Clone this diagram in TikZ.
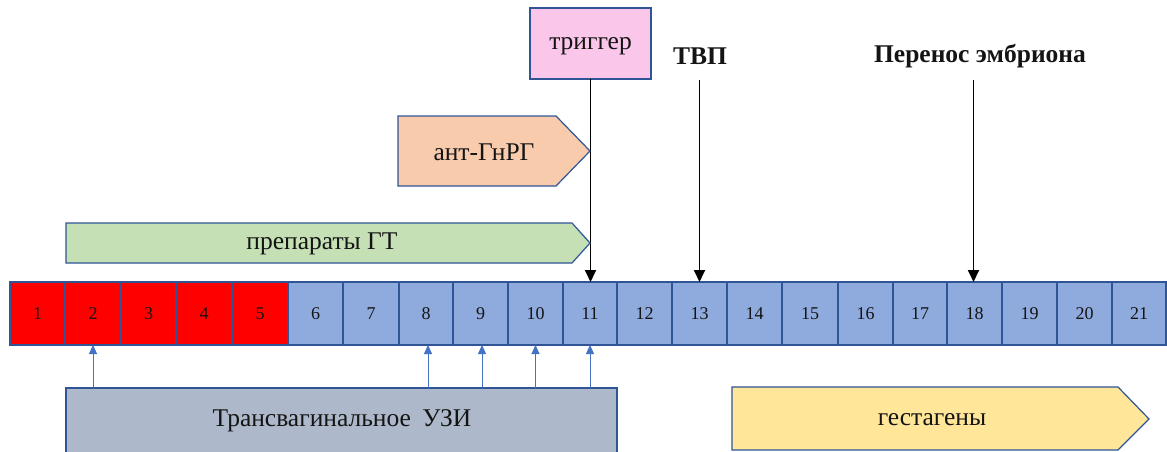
\documentclass[tikz,border=0pt]{standalone}
\usepackage{fontspec}
\setmainfont{Liberation Serif}
\newfontfamily\timesfont{Liberation Serif}
\usetikzlibrary{arrows.meta}

\definecolor{edgeblue}{RGB}{47,85,151}
\definecolor{cellblue}{RGB}{143,170,220}
\definecolor{cellred}{RGB}{255,0,0}
\definecolor{trigpink}{RGB}{250,198,234}
\definecolor{antpeach}{RGB}{248,203,173}
\definecolor{gtgreen}{RGB}{197,224,180}
\definecolor{uzigrey}{RGB}{173,185,202}
\definecolor{gestyellow}{RGB}{255,230,153}
\definecolor{ptrblue}{RGB}{68,114,196}
\definecolor{inkblack}{RGB}{20,20,20}

\tikzset{
  cell/.style={draw=edgeblue, line width=1.4pt, fill=cellblue, inner sep=0pt, outer sep=0pt,
    minimum height=63pt, text=inkblack, font=\timesfont\fontsize{18}{20}\selectfont},
  redcell/.style={cell, fill=cellred},
  txt/.style={font=\timesfont\fontsize{25.5}{30}\selectfont, text=inkblack, inner sep=0pt},
  boldtxt/.style={txt, font=\timesfont\fontsize{25.5}{30}\selectfont\bfseries},
  shapeline/.style={draw=edgeblue, line width=1.2pt},
  markarrow/.style={line width=1.8pt, -{Triangle[width=11pt,length=12pt]}},
  scanarrow/.style={draw=ptrblue, line width=1pt, -{Triangle[width=8pt,length=9pt]}}
}

\begin{document}
\begin{tikzpicture}[x=1pt,y=-1pt]
  \clip (0,0) rectangle (1167,452);
  \fill[white] (0,0) rectangle (1167,452);

  % day cells of the cycle
  \foreach \i/\a/\b in {1/10/65, 2/65/121, 3/121/176, 4/176/232, 5/232/288}
    \node[redcell, minimum width={(\b-\a)*1pt}] (c\i) at ({(\a+\b)/2},313.5) {\i};
  \foreach \i/\a/\b in {6/288/343, 7/343/399, 8/399/453, 9/453/508, 10/508/563,
      11/563/617, 12/617/672, 13/672/727, 14/727/782, 15/782/838, 16/838/893,
      17/893/947, 18/947/1002, 19/1002/1057, 20/1057/1112, 21/1112/1166}
    \node[cell, minimum width={(\b-\a)*1pt}] (c\i) at ({(\a+\b)/2},313.5) {\i};

  % trigger box and its arrow
  \node[draw=edgeblue, line width=1.2pt, fill=trigpink, minimum width=121pt,
        minimum height=71pt, inner sep=0pt, outer sep=0pt, anchor=north west]
        (trig) at (530,8) {};
  \node[txt] (trigtxt) at (590.5,46) {триггер};
  \draw[markarrow] (trig.south) -- (trig.south |- c11.north);

  % antagonist arrow shape
  \draw[shapeline, fill=antpeach] (398,116) -- (556,116) -- (590,151) -- (556,186) -- (398,186) -- cycle;
  \node[txt] (ant) at (484,152) {ант-ГнРГ};

  % hormone therapy arrow shape
  \draw[shapeline, fill=gtgreen] (66,223) -- (572,223) -- (590,243) -- (572,263) -- (66,263) -- cycle;
  \node[txt] (gt) at (322,244) {препараты ГТ};

  % puncture and transfer markers
  \node[boldtxt] (tvp) at (700,56) {ТВП};
  \coordinate (tvptop) at (699.5,80);
  \draw[markarrow] (tvptop) -- (tvptop |- c13.north);

  \node[boldtxt] (transfer) at (980,56) {Перенос эмбриона};
  \coordinate (transfertop) at (973.5,80);
  \draw[markarrow] (transfertop) -- (transfertop |- c18.north);

  % ultrasound box and scan days
  \node[draw=edgeblue, line width=1.2pt, fill=uzigrey, minimum width=551pt,
        minimum height=80pt, inner sep=0pt, outer sep=0pt, anchor=north west]
        (uzi) at (66,388) {};
  \node[txt] (uzitxt) at (342,421) {Трансвагинальное\hspace{0.45em}УЗИ};
  \draw[scanarrow] (uzi.north -| c2.south) -- (c2.south);
  \draw[scanarrow] ([xshift=2pt]uzi.north -| c8.south) -- ([xshift=2pt]c8.south);
  \draw[scanarrow] ([xshift=1.5pt]uzi.north -| c9.south) -- ([xshift=1.5pt]c9.south);
  \draw[scanarrow] (uzi.north -| c10.south) -- (c10.south);
  \draw[scanarrow] (uzi.north -| c11.south) -- (c11.south);

  % progestogen arrow shape
  \draw[shapeline, fill=gestyellow] (732,387) -- (1118,387) -- (1149,419) -- (1118,450) -- (732,450) -- cycle;
  \node[txt] (gest) at (932,420) {гестагены};
\end{tikzpicture}
\end{document}
